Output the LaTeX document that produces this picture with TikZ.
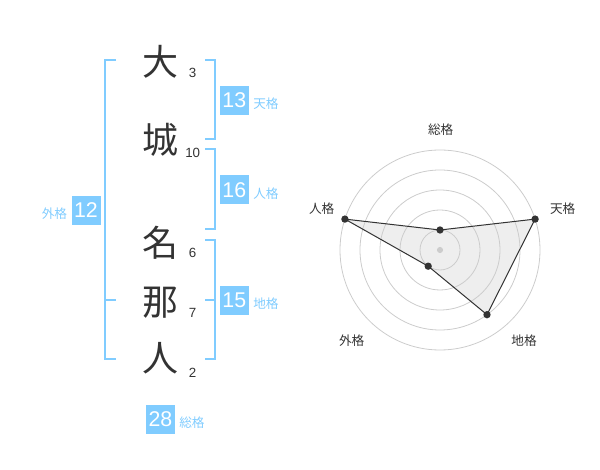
\documentclass[tikz,border=0pt]{standalone}
\usepackage{fontspec}
\setmainfont{Liberation Sans}
\newfontfamily\cjk{Noto Sans CJK JP}
\definecolor{bk}{HTML}{80CCFF}
\definecolor{dk}{HTML}{333333}
\definecolor{ring}{HTML}{CCCCCC}
\definecolor{polyfill}{HTML}{EEEEEE}
\begin{document}
\begin{tikzpicture}[x=0.75pt,y=-0.75pt,
  kanji/.style={inner sep=0pt,text=dk,font=\cjk\fontsize{27}{27}\selectfont},
  strokes/.style={inner sep=0pt,text=dk,font=\fontsize{10}{10}\selectfont},
  numbox/.style={fill=bk,text=white,minimum size=21.75pt,inner sep=0pt,font=\fontsize{16}{16}\selectfont},
  kaku/.style={inner sep=0pt,text=bk,font=\cjk\fontsize{9.5}{9.5}\selectfont,anchor=west},
  bracket/.style={draw=bk,line width=1.5pt},
  rlabel/.style={inner sep=0pt,text=dk,font=\cjk\fontsize{9.5}{9.5}\selectfont},
  ringline/.style={draw=ring,line width=0.6pt},
  dot/.style={circle,fill=dk,inner sep=0pt,minimum size=5.5pt}]
\useasboundingbox (0,0) rectangle (600,470);
% characters
\node[kanji] (c1) at (160,61.7) {大};
\node[kanji] (c2) at (160,140) {城};
\node[kanji] (c3) at (160,243) {名};
\node[kanji] (c4) at (160,303) {那};
\node[kanji] (c5) at (160,358) {人};
\node[strokes] (s1) at (192.7,72.7) {3};
\node[strokes] (s2) at (192.7,153.3) {10};
\node[strokes] (s3) at (192.7,252.7) {6};
\node[strokes] (s4) at (192.7,312.7) {7};
\node[strokes] (s5) at (192.7,373.3) {2};
% brackets
\draw[bracket] (116,60) -- (105,60) -- (105,359.3) -- (116,359.3);
\draw[bracket] (105,300) -- (116,300);
\draw[bracket] (205,60) -- (215,60) -- (215,139.3) -- (205,139.3);
\draw[bracket] (205,149.3) -- (215,149.3) -- (215,229.3) -- (205,229.3);
\draw[bracket] (205,240) -- (215,240) -- (215,359.3) -- (205,359.3);
\draw[bracket] (205,300) -- (215,300);
% boxes
\node[numbox] (ten) at (234.3,100.3) {13};
\node[kaku] (tenl) at (253,104) {天格};
\node[numbox] (jin) at (234.3,190) {16};
\node[kaku] (jinl) at (253,194) {人格};
\node[numbox] (chi) at (234.3,300.3) {15};
\node[kaku] (chil) at (253,304) {地格};
\node[numbox] (gai) at (86,210.5) {12};
\node[kaku] (gail) at (41.5,214) {外格};
\node[numbox] (sou) at (160.5,419) {28};
\node[kaku] (soul) at (179,422.7) {総格};
% radar
\coordinate (ctr) at (440,250);
\coordinate (p1) at (440,230);
\coordinate (p2) at (535.1,219.1);
\coordinate (p3) at (487.0,314.7);
\coordinate (p4) at (428.2,266.2);
\coordinate (p5) at (344.9,219.1);
\fill[polyfill] (p1) -- (p2) -- (p3) -- (p4) -- (p5) -- cycle;
\foreach \r in {15,30,45,60,75} \draw[ringline] (ctr) circle[radius=\r pt];
\draw[dk,line width=0.75pt] (p1) -- (p2) -- (p3) -- (p4) -- (p5) -- cycle;
\fill[ring] (ctr) circle[radius=2.3pt];
\foreach \p in {p1,p2,p3,p4,p5} \node[dot] at (\p) {};
\node[rlabel] (l1) at (440.7,130) {総格};
\node[rlabel] (l2) at (562.7,208.3) {天格};
\node[rlabel] (l3) at (524,341) {地格};
\node[rlabel] (l4) at (351.7,341) {外格};
\node[rlabel] (l5) at (321.7,208.3) {人格};
\end{tikzpicture}
\end{document}
